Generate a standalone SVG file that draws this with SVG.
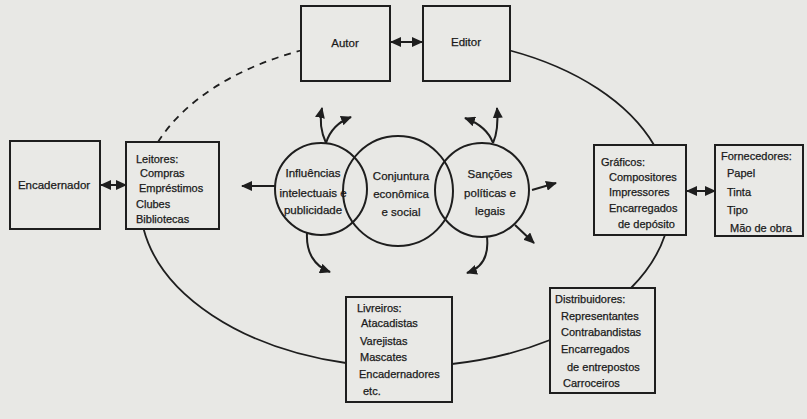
<svg xmlns="http://www.w3.org/2000/svg" width="807" height="419" viewBox="0 0 807 419">
<style>
.box{fill:#e9e9e6;stroke:#1e1e1e;stroke-width:2}
.t{font-family:"Liberation Sans",Arial,sans-serif;font-size:11px;fill:#1a1a1a;stroke:#1a1a1a;stroke-width:0.25}
.tc{font-family:"Liberation Sans",Arial,sans-serif;font-size:11.5px;fill:#1a1a1a;stroke:#1a1a1a;stroke-width:0.25;text-anchor:middle}
.c{fill:none;stroke:#1e1e1e;stroke-width:2}
.ln{fill:none;stroke:#1e1e1e;stroke-width:1.8}
.ar{fill:none;stroke:#1e1e1e;stroke-width:2;marker-end:url(#ah)}
.dar{fill:none;stroke:#1e1e1e;stroke-width:2;marker-end:url(#ah);marker-start:url(#ahs)}
</style>
<defs>
<marker id="ah" markerUnits="userSpaceOnUse" markerWidth="12" markerHeight="10" refX="10" refY="5" orient="auto">
<path d="M0,0 L11,5 L0,10 Z" fill="#1e1e1e"/>
</marker>
<marker id="ahs" markerUnits="userSpaceOnUse" markerWidth="12" markerHeight="10" refX="1" refY="5" orient="auto">
<path d="M11,0 L0,5 L11,10 Z" fill="#1e1e1e"/>
</marker>
</defs>
<rect width="807" height="419" fill="#e8e8e5"/>

<g id="connectors">
<path class="ln" d="M510,50.5 A265,165 0 0 1 654,145"/>
<path class="ln" d="M665,235 A265,165 0 0 1 631,288"/>
<path class="ln" d="M550,340 A265,165 0 0 1 452,364"/>
<path class="ln" d="M346,363 A265,165 0 0 1 143.6,229"/>
<path class="ln" d="M158,142 A265,165 0 0 1 301,50.5" stroke-dasharray="7,6" stroke-width="2"/>
<path class="dar" d="M391,42 L422,42"/>
<path class="dar" d="M101,185 L126,185"/>
<path class="dar" d="M687,191 L715,191"/>
<path class="ar" d="M275,186 L242,186"/>
<path class="ar" d="M326,143 C321,132 319,122 322,108"/>
<path class="ar" d="M326,143 C330,130 338,122 351,117"/>
<path class="ar" d="M493,143 C498,132 498,120 497,108"/>
<path class="ar" d="M493,143 C489,132 481,124 465,118"/>
<path class="ar" d="M307,233 C306,252 314,266 330,272"/>
<path class="ar" d="M487,237 C489,256 482,268 467,273"/>
<path class="ar" d="M532,190 L556,183"/>
<path class="ar" d="M515,225 L534,243"/>
</g>

<g id="autor">
<rect class="box" x="301" y="6" width="89" height="75"/>
<text class="tc" x="345" y="47" font-size="12">Autor</text>
</g>
<g id="editor">
<rect class="box" x="423" y="6" width="87" height="75"/>
<text class="tc" x="466" y="46" font-size="12">Editor</text>
</g>
<g id="encadernador">
<rect class="box" x="10" y="141" width="90" height="88"/>
<text class="tc" x="54" y="189" font-size="11">Encadernador</text>
</g>
<g id="leitores">
<rect class="box" x="126" y="142" width="93" height="87"/>
<text class="t" x="136" y="163">Leitores:</text>
<text class="t" x="140" y="177">Compras</text>
<text class="t" x="139" y="192">Empréstimos</text>
<text class="t" x="136" y="208">Clubes</text>
<text class="t" x="136" y="223">Bibliotecas</text>
</g>
<g id="circulos">
<circle class="c" cx="321" cy="189" r="46"/>
<circle class="c" cx="398" cy="191" r="55"/>
<circle class="c" cx="482" cy="190" r="47"/>
<text class="tc" x="313" y="177">Influências</text>
<text class="tc" x="313" y="197">intelectuais e</text>
<text class="tc" x="313" y="214">publicidade</text>
<text class="tc" x="401" y="180">Conjuntura</text>
<text class="tc" x="401" y="198">econômica</text>
<text class="tc" x="401" y="216">e social</text>
<text class="tc" x="490" y="178">Sanções</text>
<text class="tc" x="490" y="197">políticas e</text>
<text class="tc" x="490" y="215">legais</text>
</g>
<g id="graficos">
<rect class="box" x="594" y="145" width="92" height="90"/>
<text class="t" x="601" y="166">Gráficos:</text>
<text class="t" x="609" y="181">Compositores</text>
<text class="t" x="609" y="196">Impressores</text>
<text class="t" x="609" y="212">Encarregados</text>
<text class="t" x="618" y="228">de depósito</text>
</g>
<g id="fornecedores">
<rect class="box" x="715" y="145" width="88" height="91"/>
<text class="t" x="721" y="160">Fornecedores:</text>
<text class="t" x="727" y="177">Papel</text>
<text class="t" x="727" y="196">Tinta</text>
<text class="t" x="727" y="214">Tipo</text>
<text class="t" x="730" y="232">Mão de obra</text>
</g>
<g id="livreiros">
<rect class="box" x="346" y="297" width="106" height="105"/>
<text class="t" x="357" y="312">Livreiros:</text>
<text class="t" x="361" y="327" font-size="11.5">Atacadistas</text>
<text class="t" x="360" y="345" font-size="11.5">Varejistas</text>
<text class="t" x="360" y="361" font-size="11.5">Mascates</text>
<text class="t" x="359" y="378" font-size="11.5">Encadernadores</text>
<text class="t" x="363" y="395" font-size="11.5">etc.</text>
</g>
<g id="distribuidores">
<rect class="box" x="550" y="288" width="105" height="105"/>
<text class="t" x="555" y="303" font-size="11.5">Distribuidores:</text>
<text class="t" x="561" y="320" font-size="11.5">Representantes</text>
<text class="t" x="561" y="336" font-size="11.5">Contrabandistas</text>
<text class="t" x="561" y="353" font-size="11.5">Encarregados</text>
<text class="t" x="567" y="371" font-size="11.5">de entrepostos</text>
<text class="t" x="563" y="387" font-size="11.5">Carroceiros</text>
</g>
</svg>
